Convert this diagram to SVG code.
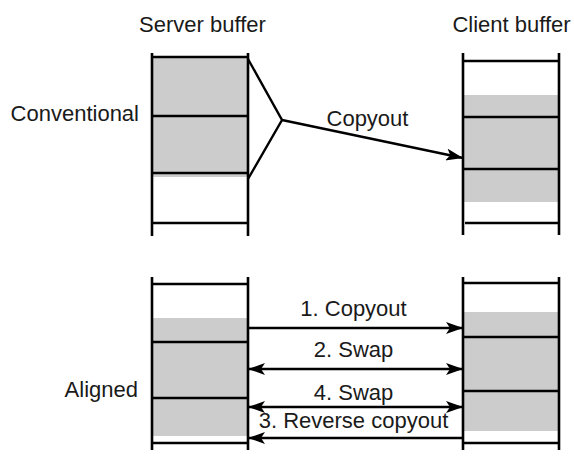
<svg xmlns="http://www.w3.org/2000/svg" width="574" height="457" viewBox="0 0 574 457">
<style>
.t{font-family:"Liberation Sans",Arial,sans-serif;font-size:22px;fill:#1a1a1a}
.m{text-anchor:middle}
.e{text-anchor:end}
.ln{stroke:#000;stroke-width:2.6;fill:none}
.g{fill:#cccccc;stroke:none}
.c{stroke:#000;stroke-width:2.4;fill:none}
</style>
<defs>
<marker id="ah" markerUnits="userSpaceOnUse" markerWidth="20" markerHeight="12" refX="17" refY="6" orient="auto-start-reverse" viewBox="0 0 20 12">
<path d="M0,0 L17,6 L0,12 L4,6 z" fill="#000"/>
</marker>
</defs>
<rect width="574" height="457" fill="#fff"/>
<g id="labels">
<text class="t m" x="202.5" y="32">Server buffer</text>
<text class="t m" x="511.5" y="32">Client buffer</text>
<text class="t e" x="139" y="121">Conventional</text>
<text class="t e" x="138" y="397">Aligned</text>
</g>
<g id="server-conventional">
<rect class="g" x="152" y="57" width="96" height="120"/>
<path class="ln" d="M152,53 V236 M248,53 V236 M152,57 H248 M152,116 H248 M152,173 H248 M152,223 H248"/>
</g>
<g id="client-conventional">
<rect class="g" x="463" y="95" width="96" height="107"/>
<path class="ln" d="M463,53 V235 M559,53 V235 M463,61 H559 M463,117 H559 M463,169 H559 M465,223 H559"/>
</g>
<g id="server-aligned">
<rect class="g" x="152" y="318" width="96" height="118"/>
<path class="ln" d="M152,277 V450 M248,277 V450 M152,284 H248 M152,342 H248 M152,398 H248 M152,443 H248"/>
</g>
<g id="client-aligned">
<rect class="g" x="463" y="312" width="96" height="119"/>
<path class="ln" d="M463,277 V450 M559,277 V450 M463,283 H559 M463,337 H559 M463,391 H559 M463,443 H559"/>
</g>
<g id="connectors">
<path class="c" d="M248,59 L282,120 L248,179"/>
<path class="c" d="M282,120 L463,158" marker-end="url(#ah)"/>
<text class="t m" x="367.5" y="126">Copyout</text>
<path class="c" d="M248,328 H463" marker-end="url(#ah)"/>
<text class="t m" x="353.5" y="316">1. Copyout</text>
<path class="c" d="M248,369 H463" marker-start="url(#ah)" marker-end="url(#ah)"/>
<text class="t m" x="353.5" y="357">2. Swap</text>
<path class="c" d="M248,407 H463" marker-start="url(#ah)" marker-end="url(#ah)"/>
<text class="t m" x="353.5" y="400">4. Swap</text>
<path class="c" d="M463,438 H248" marker-end="url(#ah)"/>
<text class="t m" x="353.5" y="428">3. Reverse copyout</text>
</g>
</svg>
